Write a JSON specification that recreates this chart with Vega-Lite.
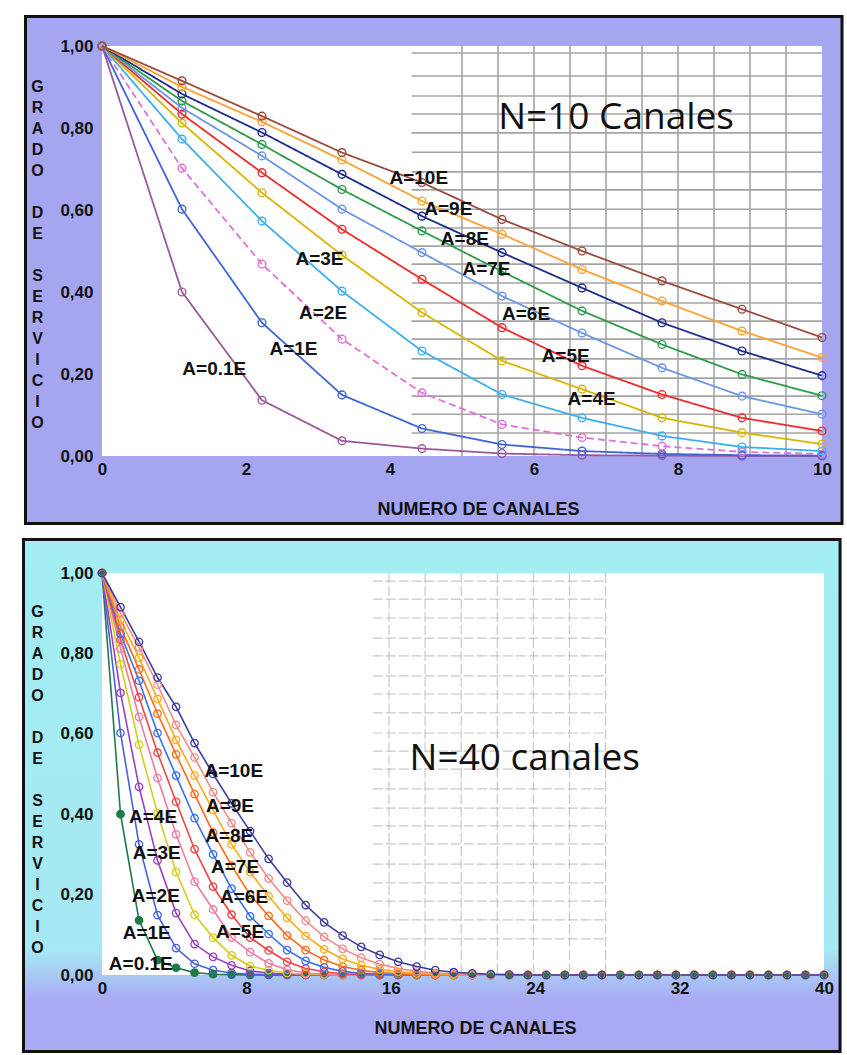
{
  "$schema": "https://vega.github.io/schema/vega-lite/v6.json",
  "background": "white",
  "padding": {"left": 22, "top": 14, "right": 0, "bottom": 0},
  "spacing": 13,
  "bounds": "full",
  "resolve": {"scale": {"x": "independent", "y": "independent", "color": "independent", "stroke": "independent", "fill": "independent", "strokeDash": "independent"}},
  "config": {
    "view": {"stroke": null},
    "axis": {"domain": false, "ticks": false, "grid": false, "labelFont": "Liberation Sans Narrow, Liberation Sans, sans-serif", "labelFontSize": 17, "labelFontWeight": "bold", "labelColor": "#111111", "titleFont": "Liberation Sans Narrow, Liberation Sans, sans-serif", "titleFontWeight": "bold", "titleColor": "#111111"},
    "axisX": {"labelPadding": 5, "titleFontSize": 18, "titlePadding": 23, "labelFlush": false},
    "axisY": {"labelPadding": 9, "titleAngle": 0, "titleFontSize": 16, "titleLineHeight": 21, "titleAlign": "center", "titleBaseline": "middle", "labelExpr": "replace(format(datum.value, '.2f'), '.', ',')"}
  },
  "datasets": {
    "top": [
      {"serie":"A=0.1E","x":0,"y":1},{"serie":"A=0.1E","x":1.111,"y":0.40},{"serie":"A=0.1E","x":2.222,"y":0.136},{"serie":"A=0.1E","x":3.333,"y":0.037},{"serie":"A=0.1E","x":4.444,"y":0.018},{"serie":"A=0.1E","x":5.556,"y":0.006},{"serie":"A=0.1E","x":6.667,"y":0.002},{"serie":"A=0.1E","x":7.778,"y":0.001},{"serie":"A=0.1E","x":8.889,"y":0},{"serie":"A=0.1E","x":10,"y":0},
      {"serie":"A=1E","x":0,"y":1},{"serie":"A=1E","x":1.111,"y":0.602},{"serie":"A=1E","x":2.222,"y":0.325},{"serie":"A=1E","x":3.333,"y":0.149},{"serie":"A=1E","x":4.444,"y":0.067},{"serie":"A=1E","x":5.556,"y":0.028},{"serie":"A=1E","x":6.667,"y":0.012},{"serie":"A=1E","x":7.778,"y":0.005},{"serie":"A=1E","x":8.889,"y":0.002},{"serie":"A=1E","x":10,"y":0.001},
      {"serie":"A=2E","x":0,"y":1},{"serie":"A=2E","x":1.111,"y":0.702},{"serie":"A=2E","x":2.222,"y":0.468},{"serie":"A=2E","x":3.333,"y":0.285},{"serie":"A=2E","x":4.444,"y":0.154},{"serie":"A=2E","x":5.556,"y":0.077},{"serie":"A=2E","x":6.667,"y":0.045},{"serie":"A=2E","x":7.778,"y":0.024},{"serie":"A=2E","x":8.889,"y":0.010},{"serie":"A=2E","x":10,"y":0.005},
      {"serie":"A=3E","x":0,"y":1},{"serie":"A=3E","x":1.111,"y":0.773},{"serie":"A=3E","x":2.222,"y":0.573},{"serie":"A=3E","x":3.333,"y":0.402},{"serie":"A=3E","x":4.444,"y":0.256},{"serie":"A=3E","x":5.556,"y":0.150},{"serie":"A=3E","x":6.667,"y":0.093},{"serie":"A=3E","x":7.778,"y":0.049},{"serie":"A=3E","x":8.889,"y":0.022},{"serie":"A=3E","x":10,"y":0.012},
      {"serie":"A=4E","x":0,"y":1},{"serie":"A=4E","x":1.111,"y":0.812},{"serie":"A=4E","x":2.222,"y":0.642},{"serie":"A=4E","x":3.333,"y":0.490},{"serie":"A=4E","x":4.444,"y":0.350},{"serie":"A=4E","x":5.556,"y":0.232},{"serie":"A=4E","x":6.667,"y":0.163},{"serie":"A=4E","x":7.778,"y":0.093},{"serie":"A=4E","x":8.889,"y":0.057},{"serie":"A=4E","x":10,"y":0.029},
      {"serie":"A=5E","x":0,"y":1},{"serie":"A=5E","x":1.111,"y":0.834},{"serie":"A=5E","x":2.222,"y":0.691},{"serie":"A=5E","x":3.333,"y":0.553},{"serie":"A=5E","x":4.444,"y":0.431},{"serie":"A=5E","x":5.556,"y":0.313},{"serie":"A=5E","x":6.667,"y":0.220},{"serie":"A=5E","x":7.778,"y":0.150},{"serie":"A=5E","x":8.889,"y":0.093},{"serie":"A=5E","x":10,"y":0.061},
      {"serie":"A=6E","x":0,"y":1},{"serie":"A=6E","x":1.111,"y":0.849},{"serie":"A=6E","x":2.222,"y":0.732},{"serie":"A=6E","x":3.333,"y":0.602},{"serie":"A=6E","x":4.444,"y":0.496},{"serie":"A=6E","x":5.556,"y":0.390},{"serie":"A=6E","x":6.667,"y":0.300},{"serie":"A=6E","x":7.778,"y":0.215},{"serie":"A=6E","x":8.889,"y":0.146},{"serie":"A=6E","x":10,"y":0.102},
      {"serie":"A=7E","x":0,"y":1},{"serie":"A=7E","x":1.111,"y":0.866},{"serie":"A=7E","x":2.222,"y":0.760},{"serie":"A=7E","x":3.333,"y":0.650},{"serie":"A=7E","x":4.444,"y":0.549},{"serie":"A=7E","x":5.556,"y":0.450},{"serie":"A=7E","x":6.667,"y":0.354},{"serie":"A=7E","x":7.778,"y":0.272},{"serie":"A=7E","x":8.889,"y":0.199},{"serie":"A=7E","x":10,"y":0.147},
      {"serie":"A=8E","x":0,"y":1},{"serie":"A=8E","x":1.111,"y":0.883},{"serie":"A=8E","x":2.222,"y":0.789},{"serie":"A=8E","x":3.333,"y":0.687},{"serie":"A=8E","x":4.444,"y":0.585},{"serie":"A=8E","x":5.556,"y":0.496},{"serie":"A=8E","x":6.667,"y":0.410},{"serie":"A=8E","x":7.778,"y":0.325},{"serie":"A=8E","x":8.889,"y":0.256},{"serie":"A=8E","x":10,"y":0.196},
      {"serie":"A=9E","x":0,"y":1},{"serie":"A=9E","x":1.111,"y":0.900},{"serie":"A=9E","x":2.222,"y":0.815},{"serie":"A=9E","x":3.333,"y":0.722},{"serie":"A=9E","x":4.444,"y":0.622},{"serie":"A=9E","x":5.556,"y":0.541},{"serie":"A=9E","x":6.667,"y":0.455},{"serie":"A=9E","x":7.778,"y":0.378},{"serie":"A=9E","x":8.889,"y":0.305},{"serie":"A=9E","x":10,"y":0.240},
      {"serie":"A=10E","x":0,"y":1},{"serie":"A=10E","x":1.111,"y":0.915},{"serie":"A=10E","x":2.222,"y":0.829},{"serie":"A=10E","x":3.333,"y":0.740},{"serie":"A=10E","x":4.444,"y":0.667},{"serie":"A=10E","x":5.556,"y":0.577},{"serie":"A=10E","x":6.667,"y":0.500},{"serie":"A=10E","x":7.778,"y":0.427},{"serie":"A=10E","x":8.889,"y":0.358},{"serie":"A=10E","x":10,"y":0.289}
    ],
    "bottom": [
      {"serie":"A=0.1E","x":0,"y":1},{"serie":"A=0.1E","x":1.026,"y":0.40},{"serie":"A=0.1E","x":2.051,"y":0.136},{"serie":"A=0.1E","x":3.077,"y":0.037},{"serie":"A=0.1E","x":4.103,"y":0.018},{"serie":"A=0.1E","x":5.128,"y":0.006},{"serie":"A=0.1E","x":6.154,"y":0.002},{"serie":"A=0.1E","x":7.179,"y":0.001},{"serie":"A=0.1E","x":8.205,"y":0},{"serie":"A=0.1E","x":9.231,"y":0},{"serie":"A=0.1E","x":10.256,"y":0},{"serie":"A=0.1E","x":11.282,"y":0},{"serie":"A=0.1E","x":12.308,"y":0},{"serie":"A=0.1E","x":13.333,"y":0},{"serie":"A=0.1E","x":14.359,"y":0},{"serie":"A=0.1E","x":15.385,"y":0},{"serie":"A=0.1E","x":16.41,"y":0},{"serie":"A=0.1E","x":17.436,"y":0},{"serie":"A=0.1E","x":18.462,"y":0},{"serie":"A=0.1E","x":19.487,"y":0},{"serie":"A=0.1E","x":20.513,"y":0},{"serie":"A=0.1E","x":21.538,"y":0},{"serie":"A=0.1E","x":22.564,"y":0},{"serie":"A=0.1E","x":23.59,"y":0},{"serie":"A=0.1E","x":24.615,"y":0},{"serie":"A=0.1E","x":25.641,"y":0},{"serie":"A=0.1E","x":26.667,"y":0},{"serie":"A=0.1E","x":27.692,"y":0},{"serie":"A=0.1E","x":28.718,"y":0},{"serie":"A=0.1E","x":29.744,"y":0},{"serie":"A=0.1E","x":30.769,"y":0},{"serie":"A=0.1E","x":31.795,"y":0},{"serie":"A=0.1E","x":32.821,"y":0},{"serie":"A=0.1E","x":33.846,"y":0},{"serie":"A=0.1E","x":34.872,"y":0},{"serie":"A=0.1E","x":35.897,"y":0},{"serie":"A=0.1E","x":36.923,"y":0},{"serie":"A=0.1E","x":37.949,"y":0},{"serie":"A=0.1E","x":38.974,"y":0},{"serie":"A=0.1E","x":40,"y":0},
      {"serie":"A=1E","x":0,"y":1},{"serie":"A=1E","x":1.026,"y":0.602},{"serie":"A=1E","x":2.051,"y":0.325},{"serie":"A=1E","x":3.077,"y":0.149},{"serie":"A=1E","x":4.103,"y":0.067},{"serie":"A=1E","x":5.128,"y":0.028},{"serie":"A=1E","x":6.154,"y":0.012},{"serie":"A=1E","x":7.179,"y":0.005},{"serie":"A=1E","x":8.205,"y":0.002},{"serie":"A=1E","x":9.231,"y":0.001},{"serie":"A=1E","x":10.256,"y":0},{"serie":"A=1E","x":11.282,"y":0},{"serie":"A=1E","x":12.308,"y":0},{"serie":"A=1E","x":13.333,"y":0},{"serie":"A=1E","x":14.359,"y":0},{"serie":"A=1E","x":15.385,"y":0},{"serie":"A=1E","x":16.41,"y":0},{"serie":"A=1E","x":17.436,"y":0},{"serie":"A=1E","x":18.462,"y":0},{"serie":"A=1E","x":19.487,"y":0},{"serie":"A=1E","x":20.513,"y":0},{"serie":"A=1E","x":21.538,"y":0},{"serie":"A=1E","x":22.564,"y":0},{"serie":"A=1E","x":23.59,"y":0},{"serie":"A=1E","x":24.615,"y":0},{"serie":"A=1E","x":25.641,"y":0},{"serie":"A=1E","x":26.667,"y":0},{"serie":"A=1E","x":27.692,"y":0},{"serie":"A=1E","x":28.718,"y":0},{"serie":"A=1E","x":29.744,"y":0},{"serie":"A=1E","x":30.769,"y":0},{"serie":"A=1E","x":31.795,"y":0},{"serie":"A=1E","x":32.821,"y":0},{"serie":"A=1E","x":33.846,"y":0},{"serie":"A=1E","x":34.872,"y":0},{"serie":"A=1E","x":35.897,"y":0},{"serie":"A=1E","x":36.923,"y":0},{"serie":"A=1E","x":37.949,"y":0},{"serie":"A=1E","x":38.974,"y":0},{"serie":"A=1E","x":40,"y":0},
      {"serie":"A=2E","x":0,"y":1},{"serie":"A=2E","x":1.026,"y":0.702},{"serie":"A=2E","x":2.051,"y":0.468},{"serie":"A=2E","x":3.077,"y":0.285},{"serie":"A=2E","x":4.103,"y":0.154},{"serie":"A=2E","x":5.128,"y":0.077},{"serie":"A=2E","x":6.154,"y":0.045},{"serie":"A=2E","x":7.179,"y":0.024},{"serie":"A=2E","x":8.205,"y":0.010},{"serie":"A=2E","x":9.231,"y":0.005},{"serie":"A=2E","x":10.256,"y":0.002},{"serie":"A=2E","x":11.282,"y":0.001},{"serie":"A=2E","x":12.308,"y":0},{"serie":"A=2E","x":13.333,"y":0},{"serie":"A=2E","x":14.359,"y":0},{"serie":"A=2E","x":15.385,"y":0},{"serie":"A=2E","x":16.41,"y":0},{"serie":"A=2E","x":17.436,"y":0},{"serie":"A=2E","x":18.462,"y":0},{"serie":"A=2E","x":19.487,"y":0},{"serie":"A=2E","x":20.513,"y":0},{"serie":"A=2E","x":21.538,"y":0},{"serie":"A=2E","x":22.564,"y":0},{"serie":"A=2E","x":23.59,"y":0},{"serie":"A=2E","x":24.615,"y":0},{"serie":"A=2E","x":25.641,"y":0},{"serie":"A=2E","x":26.667,"y":0},{"serie":"A=2E","x":27.692,"y":0},{"serie":"A=2E","x":28.718,"y":0},{"serie":"A=2E","x":29.744,"y":0},{"serie":"A=2E","x":30.769,"y":0},{"serie":"A=2E","x":31.795,"y":0},{"serie":"A=2E","x":32.821,"y":0},{"serie":"A=2E","x":33.846,"y":0},{"serie":"A=2E","x":34.872,"y":0},{"serie":"A=2E","x":35.897,"y":0},{"serie":"A=2E","x":36.923,"y":0},{"serie":"A=2E","x":37.949,"y":0},{"serie":"A=2E","x":38.974,"y":0},{"serie":"A=2E","x":40,"y":0},
      {"serie":"A=3E","x":0,"y":1},{"serie":"A=3E","x":1.026,"y":0.773},{"serie":"A=3E","x":2.051,"y":0.573},{"serie":"A=3E","x":3.077,"y":0.402},{"serie":"A=3E","x":4.103,"y":0.256},{"serie":"A=3E","x":5.128,"y":0.150},{"serie":"A=3E","x":6.154,"y":0.093},{"serie":"A=3E","x":7.179,"y":0.049},{"serie":"A=3E","x":8.205,"y":0.022},{"serie":"A=3E","x":9.231,"y":0.012},{"serie":"A=3E","x":10.256,"y":0.005},{"serie":"A=3E","x":11.282,"y":0.002},{"serie":"A=3E","x":12.308,"y":0.001},{"serie":"A=3E","x":13.333,"y":0},{"serie":"A=3E","x":14.359,"y":0},{"serie":"A=3E","x":15.385,"y":0},{"serie":"A=3E","x":16.41,"y":0},{"serie":"A=3E","x":17.436,"y":0},{"serie":"A=3E","x":18.462,"y":0},{"serie":"A=3E","x":19.487,"y":0},{"serie":"A=3E","x":20.513,"y":0},{"serie":"A=3E","x":21.538,"y":0},{"serie":"A=3E","x":22.564,"y":0},{"serie":"A=3E","x":23.59,"y":0},{"serie":"A=3E","x":24.615,"y":0},{"serie":"A=3E","x":25.641,"y":0},{"serie":"A=3E","x":26.667,"y":0},{"serie":"A=3E","x":27.692,"y":0},{"serie":"A=3E","x":28.718,"y":0},{"serie":"A=3E","x":29.744,"y":0},{"serie":"A=3E","x":30.769,"y":0},{"serie":"A=3E","x":31.795,"y":0},{"serie":"A=3E","x":32.821,"y":0},{"serie":"A=3E","x":33.846,"y":0},{"serie":"A=3E","x":34.872,"y":0},{"serie":"A=3E","x":35.897,"y":0},{"serie":"A=3E","x":36.923,"y":0},{"serie":"A=3E","x":37.949,"y":0},{"serie":"A=3E","x":38.974,"y":0},{"serie":"A=3E","x":40,"y":0},
      {"serie":"A=4E","x":0,"y":1},{"serie":"A=4E","x":1.026,"y":0.812},{"serie":"A=4E","x":2.051,"y":0.642},{"serie":"A=4E","x":3.077,"y":0.490},{"serie":"A=4E","x":4.103,"y":0.350},{"serie":"A=4E","x":5.128,"y":0.232},{"serie":"A=4E","x":6.154,"y":0.163},{"serie":"A=4E","x":7.179,"y":0.093},{"serie":"A=4E","x":8.205,"y":0.057},{"serie":"A=4E","x":9.231,"y":0.029},{"serie":"A=4E","x":10.256,"y":0.013},{"serie":"A=4E","x":11.282,"y":0.005},{"serie":"A=4E","x":12.308,"y":0.002},{"serie":"A=4E","x":13.333,"y":0.001},{"serie":"A=4E","x":14.359,"y":0},{"serie":"A=4E","x":15.385,"y":0},{"serie":"A=4E","x":16.41,"y":0},{"serie":"A=4E","x":17.436,"y":0},{"serie":"A=4E","x":18.462,"y":0},{"serie":"A=4E","x":19.487,"y":0},{"serie":"A=4E","x":20.513,"y":0},{"serie":"A=4E","x":21.538,"y":0},{"serie":"A=4E","x":22.564,"y":0},{"serie":"A=4E","x":23.59,"y":0},{"serie":"A=4E","x":24.615,"y":0},{"serie":"A=4E","x":25.641,"y":0},{"serie":"A=4E","x":26.667,"y":0},{"serie":"A=4E","x":27.692,"y":0},{"serie":"A=4E","x":28.718,"y":0},{"serie":"A=4E","x":29.744,"y":0},{"serie":"A=4E","x":30.769,"y":0},{"serie":"A=4E","x":31.795,"y":0},{"serie":"A=4E","x":32.821,"y":0},{"serie":"A=4E","x":33.846,"y":0},{"serie":"A=4E","x":34.872,"y":0},{"serie":"A=4E","x":35.897,"y":0},{"serie":"A=4E","x":36.923,"y":0},{"serie":"A=4E","x":37.949,"y":0},{"serie":"A=4E","x":38.974,"y":0},{"serie":"A=4E","x":40,"y":0},
      {"serie":"A=5E","x":0,"y":1},{"serie":"A=5E","x":1.026,"y":0.834},{"serie":"A=5E","x":2.051,"y":0.691},{"serie":"A=5E","x":3.077,"y":0.553},{"serie":"A=5E","x":4.103,"y":0.431},{"serie":"A=5E","x":5.128,"y":0.313},{"serie":"A=5E","x":6.154,"y":0.220},{"serie":"A=5E","x":7.179,"y":0.150},{"serie":"A=5E","x":8.205,"y":0.093},{"serie":"A=5E","x":9.231,"y":0.061},{"serie":"A=5E","x":10.256,"y":0.033},{"serie":"A=5E","x":11.282,"y":0.016},{"serie":"A=5E","x":12.308,"y":0.008},{"serie":"A=5E","x":13.333,"y":0.003},{"serie":"A=5E","x":14.359,"y":0.001},{"serie":"A=5E","x":15.385,"y":0},{"serie":"A=5E","x":16.41,"y":0},{"serie":"A=5E","x":17.436,"y":0},{"serie":"A=5E","x":18.462,"y":0},{"serie":"A=5E","x":19.487,"y":0},{"serie":"A=5E","x":20.513,"y":0},{"serie":"A=5E","x":21.538,"y":0},{"serie":"A=5E","x":22.564,"y":0},{"serie":"A=5E","x":23.59,"y":0},{"serie":"A=5E","x":24.615,"y":0},{"serie":"A=5E","x":25.641,"y":0},{"serie":"A=5E","x":26.667,"y":0},{"serie":"A=5E","x":27.692,"y":0},{"serie":"A=5E","x":28.718,"y":0},{"serie":"A=5E","x":29.744,"y":0},{"serie":"A=5E","x":30.769,"y":0},{"serie":"A=5E","x":31.795,"y":0},{"serie":"A=5E","x":32.821,"y":0},{"serie":"A=5E","x":33.846,"y":0},{"serie":"A=5E","x":34.872,"y":0},{"serie":"A=5E","x":35.897,"y":0},{"serie":"A=5E","x":36.923,"y":0},{"serie":"A=5E","x":37.949,"y":0},{"serie":"A=5E","x":38.974,"y":0},{"serie":"A=5E","x":40,"y":0},
      {"serie":"A=6E","x":0,"y":1},{"serie":"A=6E","x":1.026,"y":0.849},{"serie":"A=6E","x":2.051,"y":0.732},{"serie":"A=6E","x":3.077,"y":0.602},{"serie":"A=6E","x":4.103,"y":0.496},{"serie":"A=6E","x":5.128,"y":0.390},{"serie":"A=6E","x":6.154,"y":0.300},{"serie":"A=6E","x":7.179,"y":0.215},{"serie":"A=6E","x":8.205,"y":0.146},{"serie":"A=6E","x":9.231,"y":0.102},{"serie":"A=6E","x":10.256,"y":0.062},{"serie":"A=6E","x":11.282,"y":0.035},{"serie":"A=6E","x":12.308,"y":0.019},{"serie":"A=6E","x":13.333,"y":0.009},{"serie":"A=6E","x":14.359,"y":0.004},{"serie":"A=6E","x":15.385,"y":0.002},{"serie":"A=6E","x":16.41,"y":0.001},{"serie":"A=6E","x":17.436,"y":0},{"serie":"A=6E","x":18.462,"y":0},{"serie":"A=6E","x":19.487,"y":0},{"serie":"A=6E","x":20.513,"y":0},{"serie":"A=6E","x":21.538,"y":0},{"serie":"A=6E","x":22.564,"y":0},{"serie":"A=6E","x":23.59,"y":0},{"serie":"A=6E","x":24.615,"y":0},{"serie":"A=6E","x":25.641,"y":0},{"serie":"A=6E","x":26.667,"y":0},{"serie":"A=6E","x":27.692,"y":0},{"serie":"A=6E","x":28.718,"y":0},{"serie":"A=6E","x":29.744,"y":0},{"serie":"A=6E","x":30.769,"y":0},{"serie":"A=6E","x":31.795,"y":0},{"serie":"A=6E","x":32.821,"y":0},{"serie":"A=6E","x":33.846,"y":0},{"serie":"A=6E","x":34.872,"y":0},{"serie":"A=6E","x":35.897,"y":0},{"serie":"A=6E","x":36.923,"y":0},{"serie":"A=6E","x":37.949,"y":0},{"serie":"A=6E","x":38.974,"y":0},{"serie":"A=6E","x":40,"y":0},
      {"serie":"A=7E","x":0,"y":1},{"serie":"A=7E","x":1.026,"y":0.866},{"serie":"A=7E","x":2.051,"y":0.760},{"serie":"A=7E","x":3.077,"y":0.650},{"serie":"A=7E","x":4.103,"y":0.549},{"serie":"A=7E","x":5.128,"y":0.450},{"serie":"A=7E","x":6.154,"y":0.354},{"serie":"A=7E","x":7.179,"y":0.272},{"serie":"A=7E","x":8.205,"y":0.199},{"serie":"A=7E","x":9.231,"y":0.147},{"serie":"A=7E","x":10.256,"y":0.098},{"serie":"A=7E","x":11.282,"y":0.062},{"serie":"A=7E","x":12.308,"y":0.037},{"serie":"A=7E","x":13.333,"y":0.021},{"serie":"A=7E","x":14.359,"y":0.012},{"serie":"A=7E","x":15.385,"y":0.006},{"serie":"A=7E","x":16.41,"y":0.003},{"serie":"A=7E","x":17.436,"y":0.001},{"serie":"A=7E","x":18.462,"y":0},{"serie":"A=7E","x":19.487,"y":0},{"serie":"A=7E","x":20.513,"y":0},{"serie":"A=7E","x":21.538,"y":0},{"serie":"A=7E","x":22.564,"y":0},{"serie":"A=7E","x":23.59,"y":0},{"serie":"A=7E","x":24.615,"y":0},{"serie":"A=7E","x":25.641,"y":0},{"serie":"A=7E","x":26.667,"y":0},{"serie":"A=7E","x":27.692,"y":0},{"serie":"A=7E","x":28.718,"y":0},{"serie":"A=7E","x":29.744,"y":0},{"serie":"A=7E","x":30.769,"y":0},{"serie":"A=7E","x":31.795,"y":0},{"serie":"A=7E","x":32.821,"y":0},{"serie":"A=7E","x":33.846,"y":0},{"serie":"A=7E","x":34.872,"y":0},{"serie":"A=7E","x":35.897,"y":0},{"serie":"A=7E","x":36.923,"y":0},{"serie":"A=7E","x":37.949,"y":0},{"serie":"A=7E","x":38.974,"y":0},{"serie":"A=7E","x":40,"y":0},
      {"serie":"A=8E","x":0,"y":1},{"serie":"A=8E","x":1.026,"y":0.883},{"serie":"A=8E","x":2.051,"y":0.789},{"serie":"A=8E","x":3.077,"y":0.687},{"serie":"A=8E","x":4.103,"y":0.585},{"serie":"A=8E","x":5.128,"y":0.496},{"serie":"A=8E","x":6.154,"y":0.410},{"serie":"A=8E","x":7.179,"y":0.325},{"serie":"A=8E","x":8.205,"y":0.256},{"serie":"A=8E","x":9.231,"y":0.196},{"serie":"A=8E","x":10.256,"y":0.142},{"serie":"A=8E","x":11.282,"y":0.097},{"serie":"A=8E","x":12.308,"y":0.064},{"serie":"A=8E","x":13.333,"y":0.040},{"serie":"A=8E","x":14.359,"y":0.024},{"serie":"A=8E","x":15.385,"y":0.014},{"serie":"A=8E","x":16.41,"y":0.008},{"serie":"A=8E","x":17.436,"y":0.004},{"serie":"A=8E","x":18.462,"y":0.002},{"serie":"A=8E","x":19.487,"y":0.001},{"serie":"A=8E","x":20.513,"y":0},{"serie":"A=8E","x":21.538,"y":0},{"serie":"A=8E","x":22.564,"y":0},{"serie":"A=8E","x":23.59,"y":0},{"serie":"A=8E","x":24.615,"y":0},{"serie":"A=8E","x":25.641,"y":0},{"serie":"A=8E","x":26.667,"y":0},{"serie":"A=8E","x":27.692,"y":0},{"serie":"A=8E","x":28.718,"y":0},{"serie":"A=8E","x":29.744,"y":0},{"serie":"A=8E","x":30.769,"y":0},{"serie":"A=8E","x":31.795,"y":0},{"serie":"A=8E","x":32.821,"y":0},{"serie":"A=8E","x":33.846,"y":0},{"serie":"A=8E","x":34.872,"y":0},{"serie":"A=8E","x":35.897,"y":0},{"serie":"A=8E","x":36.923,"y":0},{"serie":"A=8E","x":37.949,"y":0},{"serie":"A=8E","x":38.974,"y":0},{"serie":"A=8E","x":40,"y":0},
      {"serie":"A=9E","x":0,"y":1},{"serie":"A=9E","x":1.026,"y":0.900},{"serie":"A=9E","x":2.051,"y":0.815},{"serie":"A=9E","x":3.077,"y":0.722},{"serie":"A=9E","x":4.103,"y":0.622},{"serie":"A=9E","x":5.128,"y":0.541},{"serie":"A=9E","x":6.154,"y":0.455},{"serie":"A=9E","x":7.179,"y":0.378},{"serie":"A=9E","x":8.205,"y":0.305},{"serie":"A=9E","x":9.231,"y":0.240},{"serie":"A=9E","x":10.256,"y":0.185},{"serie":"A=9E","x":11.282,"y":0.135},{"serie":"A=9E","x":12.308,"y":0.095},{"serie":"A=9E","x":13.333,"y":0.065},{"serie":"A=9E","x":14.359,"y":0.043},{"serie":"A=9E","x":15.385,"y":0.027},{"serie":"A=9E","x":16.41,"y":0.016},{"serie":"A=9E","x":17.436,"y":0.009},{"serie":"A=9E","x":18.462,"y":0.005},{"serie":"A=9E","x":19.487,"y":0.003},{"serie":"A=9E","x":20.513,"y":0.001},{"serie":"A=9E","x":21.538,"y":0},{"serie":"A=9E","x":22.564,"y":0},{"serie":"A=9E","x":23.59,"y":0},{"serie":"A=9E","x":24.615,"y":0},{"serie":"A=9E","x":25.641,"y":0},{"serie":"A=9E","x":26.667,"y":0},{"serie":"A=9E","x":27.692,"y":0},{"serie":"A=9E","x":28.718,"y":0},{"serie":"A=9E","x":29.744,"y":0},{"serie":"A=9E","x":30.769,"y":0},{"serie":"A=9E","x":31.795,"y":0},{"serie":"A=9E","x":32.821,"y":0},{"serie":"A=9E","x":33.846,"y":0},{"serie":"A=9E","x":34.872,"y":0},{"serie":"A=9E","x":35.897,"y":0},{"serie":"A=9E","x":36.923,"y":0},{"serie":"A=9E","x":37.949,"y":0},{"serie":"A=9E","x":38.974,"y":0},{"serie":"A=9E","x":40,"y":0},
      {"serie":"A=10E","x":0,"y":1},{"serie":"A=10E","x":1.026,"y":0.915},{"serie":"A=10E","x":2.051,"y":0.829},{"serie":"A=10E","x":3.077,"y":0.740},{"serie":"A=10E","x":4.103,"y":0.667},{"serie":"A=10E","x":5.128,"y":0.577},{"serie":"A=10E","x":6.154,"y":0.500},{"serie":"A=10E","x":7.179,"y":0.427},{"serie":"A=10E","x":8.205,"y":0.358},{"serie":"A=10E","x":9.231,"y":0.289},{"serie":"A=10E","x":10.256,"y":0.230},{"serie":"A=10E","x":11.282,"y":0.174},{"serie":"A=10E","x":12.308,"y":0.131},{"serie":"A=10E","x":13.333,"y":0.098},{"serie":"A=10E","x":14.359,"y":0.070},{"serie":"A=10E","x":15.385,"y":0.050},{"serie":"A=10E","x":16.41,"y":0.033},{"serie":"A=10E","x":17.436,"y":0.021},{"serie":"A=10E","x":18.462,"y":0.012},{"serie":"A=10E","x":19.487,"y":0.007},{"serie":"A=10E","x":20.513,"y":0.004},{"serie":"A=10E","x":21.538,"y":0.002},{"serie":"A=10E","x":22.564,"y":0.001},{"serie":"A=10E","x":23.59,"y":0},{"serie":"A=10E","x":24.615,"y":0},{"serie":"A=10E","x":25.641,"y":0},{"serie":"A=10E","x":26.667,"y":0},{"serie":"A=10E","x":27.692,"y":0},{"serie":"A=10E","x":28.718,"y":0},{"serie":"A=10E","x":29.744,"y":0},{"serie":"A=10E","x":30.769,"y":0},{"serie":"A=10E","x":31.795,"y":0},{"serie":"A=10E","x":32.821,"y":0},{"serie":"A=10E","x":33.846,"y":0},{"serie":"A=10E","x":34.872,"y":0},{"serie":"A=10E","x":35.897,"y":0},{"serie":"A=10E","x":36.923,"y":0},{"serie":"A=10E","x":37.949,"y":0},{"serie":"A=10E","x":38.974,"y":0},{"serie":"A=10E","x":40,"y":0}
    ]
  },
  "vconcat": [
    {
      "width": 720,
      "height": 410,
      "data": {"name": "top"},
      "layer": [
        {
          "data": {"values": [{}]},
          "mark": {"type": "rect", "fill": "#a6a6f0", "stroke": "#111111", "strokeWidth": 3},
          "encoding": {
            "x": {"datum": -1.0625, "type": "quantitative", "scale": {"domain": [0, 10], "nice": false, "zero": false}},
            "x2": {"datum": 10.278},
            "y": {"datum": 1.072, "type": "quantitative", "scale": {"domain": [0, 1], "nice": false}},
            "y2": {"datum": -0.1646}
          }
        },
        {
          "data": {"values": [{}]},
          "mark": {"type": "rect", "fill": "white"},
          "encoding": {
            "x": {"datum": 0, "type": "quantitative"},
            "x2": {"datum": 10},
            "y": {"datum": 1, "type": "quantitative"},
            "y2": {"datum": 0}
          }
        },
        {
          "data": {"values": [{"gx":5},{"gx":5.5},{"gx":6},{"gx":6.5},{"gx":7},{"gx":7.5},{"gx":8},{"gx":8.5},{"gx":9},{"gx":9.5}]},
          "mark": {"type": "rule", "color": "#a4a4a4", "strokeWidth": 1.6},
          "encoding": {
            "x": {"field": "gx", "type": "quantitative", "title": "NUMERO DE CANALES", "axis": {"values": [0, 2, 4, 6, 8, 10], "format": "d", "titleX": 376, "zindex": 2}}
          }
        },
        {
          "data": {"values": [{"gy":0.983},{"gy":0.927},{"gy":0.878},{"gy":0.834},{"gy":0.788},{"gy":0.741},{"gy":0.693},{"gy":0.649},{"gy":0.602},{"gy":0.556},{"gy":0.512},{"gy":0.468},{"gy":0.422},{"gy":0.373},{"gy":0.329},{"gy":0.285},{"gy":0.237},{"gy":0.190},{"gy":0.146},{"gy":0.102},{"gy":0.056}]},
          "mark": {"type": "rule", "color": "#a4a4a4", "strokeWidth": 1.6},
          "encoding": {
            "x": {"datum": 4.3, "type": "quantitative"},
            "x2": {"datum": 10},
            "y": {"field": "gy", "type": "quantitative", "title": ["G","R","A","D","O","\u200b","D","E","\u200b","S","E","R","V","I","C","I","O"], "axis": {"values": [0, 0.2, 0.4, 0.6, 0.8, 1], "titleX": -65, "titleY": 40, "zindex": 2}}
          }
        },
        {
          "mark": {"type": "line", "strokeWidth": 1.8},
          "encoding": {
            "x": {"field": "x", "type": "quantitative", "title": "NUMERO DE CANALES"},
            "y": {"field": "y", "type": "quantitative", "title": ["G","R","A","D","O","\u200b","D","E","\u200b","S","E","R","V","I","C","I","O"]},
            "color": {"field": "serie", "type": "nominal", "legend": null, "scale": {"domain": ["A=0.1E","A=1E","A=2E","A=3E","A=4E","A=5E","A=6E","A=7E","A=8E","A=9E","A=10E"], "range": ["#9a5a9a","#3f64d8","#e070d8","#3ab0f0","#d9b400","#f02a2a","#6a96e6","#2f9a48","#1c2a8c","#ffa030","#9a4a3c"]}},
            "strokeDash": {"field": "serie", "type": "nominal", "legend": null, "scale": {"domain": ["A=0.1E","A=1E","A=2E","A=3E","A=4E","A=5E","A=6E","A=7E","A=8E","A=9E","A=10E"], "range": [[1,0],[1,0],[7,4],[1,0],[1,0],[1,0],[1,0],[1,0],[1,0],[1,0],[1,0]]}}
          }
        },
        {
          "mark": {"type": "point", "shape": "circle", "filled": false, "size": 60, "strokeWidth": 1.4, "opacity": 1},
          "encoding": {
            "x": {"field": "x", "type": "quantitative", "title": "NUMERO DE CANALES"},
            "y": {"field": "y", "type": "quantitative", "title": ["G","R","A","D","O","\u200b","D","E","\u200b","S","E","R","V","I","C","I","O"]},
            "color": {"field": "serie", "type": "nominal", "legend": null}
          }
        },
        {
          "data": {"values": [
            {"label":"A=10E","lx":4.40,"ly":0.679},
            {"label":"A=9E","lx":4.81,"ly":0.602},
            {"label":"A=8E","lx":5.04,"ly":0.529},
            {"label":"A=7E","lx":5.34,"ly":0.455},
            {"label":"A=6E","lx":5.89,"ly":0.347},
            {"label":"A=5E","lx":6.44,"ly":0.244},
            {"label":"A=4E","lx":6.80,"ly":0.138},
            {"label":"A=3E","lx":3.02,"ly":0.48},
            {"label":"A=2E","lx":3.07,"ly":0.35},
            {"label":"A=1E","lx":2.66,"ly":0.26},
            {"label":"A=0.1E","lx":1.56,"ly":0.211}
          ]},
          "mark": {"type": "text", "font": "Liberation Sans", "fontWeight": "bold", "fontSize": 19, "color": "#111111"},
          "encoding": {
            "x": {"field": "lx", "type": "quantitative", "title": "NUMERO DE CANALES"},
            "y": {"field": "ly", "type": "quantitative", "title": ["G","R","A","D","O","\u200b","D","E","\u200b","S","E","R","V","I","C","I","O"]},
            "text": {"field": "label"}
          }
        },
        {
          "data": {"values": [{"label": "N=10 Canales", "lx": 7.14, "ly": 0.825}]},
          "mark": {"type": "text", "font": "Open Sans", "fontSize": 37, "color": "#111111"},
          "encoding": {
            "x": {"field": "lx", "type": "quantitative", "title": "NUMERO DE CANALES"},
            "y": {"field": "ly", "type": "quantitative", "title": ["G","R","A","D","O","\u200b","D","E","\u200b","S","E","R","V","I","C","I","O"]},
            "text": {"field": "label"}
          }
        }
      ]
    },
    {
      "width": 722,
      "height": 402,
      "data": {"name": "bottom"},
      "layer": [
        {
          "data": {"values": [{}]},
          "mark": {"type": "rect", "fill": {"gradient": "linear", "x1": 0, "y1": 0, "x2": 0, "y2": 1, "stops": [{"offset": 0, "color": "#a2eef2"}, {"offset": 0.8, "color": "#a6e8f3"}, {"offset": 0.9, "color": "#aaaaf4"}, {"offset": 1, "color": "#aaaaf4"}]}, "stroke": "#111111", "strokeWidth": 3},
          "encoding": {
            "x": {"datum": -4.349, "type": "quantitative", "scale": {"domain": [0, 40], "nice": false, "zero": false}},
            "x2": {"datum": 40.89},
            "y": {"datum": 1.0833, "type": "quantitative", "scale": {"domain": [0, 1], "nice": false}},
            "y2": {"datum": -0.1903}
          }
        },
        {
          "data": {"values": [{}]},
          "mark": {"type": "rect", "fill": "white"},
          "encoding": {
            "x": {"datum": 0, "type": "quantitative"},
            "x2": {"datum": 40},
            "y": {"datum": 1, "type": "quantitative"},
            "y2": {"datum": 0}
          }
        },
        {
          "data": {"values": [{"gx":15.9},{"gx":17.9},{"gx":19.9},{"gx":21.9},{"gx":23.9},{"gx":25.9},{"gx":27.9}]},
          "mark": {"type": "rule", "color": "#b0b0b0", "strokeWidth": 1.2, "strokeDash": [10, 3], "opacity": 0.7},
          "encoding": {
            "x": {"field": "gx", "type": "quantitative", "title": "NUMERO DE CANALES", "axis": {"values": [0, 8, 16, 24, 32, 40], "format": "d", "titleX": 373, "zindex": 2}}
          }
        },
        {
          "data": {"values": [{"gy":0.980},{"gy":0.935},{"gy":0.888},{"gy":0.838},{"gy":0.794},{"gy":0.744},{"gy":0.699},{"gy":0.652},{"gy":0.602},{"gy":0.557},{"gy":0.512},{"gy":0.463},{"gy":0.415},{"gy":0.371},{"gy":0.326},{"gy":0.276},{"gy":0.229},{"gy":0.184},{"gy":0.137},{"gy":0.09}]},
          "mark": {"type": "rule", "color": "#b0b0b0", "strokeWidth": 1.2, "strokeDash": [10, 3], "opacity": 0.7},
          "encoding": {
            "x": {"datum": 15, "type": "quantitative"},
            "x2": {"datum": 28},
            "y": {"field": "gy", "type": "quantitative", "title": ["G","R","A","D","O","\u200b","D","E","\u200b","S","E","R","V","I","C","I","O"], "axis": {"values": [0, 0.2, 0.4, 0.6, 0.8, 1], "titleX": -65, "titleY": 38, "zindex": 2}}
          }
        },
        {
          "mark": {"type": "line", "strokeWidth": 1.6},
          "encoding": {
            "x": {"field": "x", "type": "quantitative", "title": "NUMERO DE CANALES"},
            "y": {"field": "y", "type": "quantitative", "title": ["G","R","A","D","O","\u200b","D","E","\u200b","S","E","R","V","I","C","I","O"]},
            "color": {"field": "serie", "type": "nominal", "legend": null, "scale": {"domain": ["A=0.1E","A=1E","A=2E","A=3E","A=4E","A=5E","A=6E","A=7E","A=8E","A=9E","A=10E"], "range": ["#1f7a48","#4a5fe0","#9b3fc0","#d4cc1a","#f07aa0","#ee4444","#3a6ff0","#ff6a1a","#ffaa1a","#f08a8a","#3c3ca0"]}}
          }
        },
        {
          "mark": {"type": "point", "shape": "circle", "filled": true, "size": 55, "strokeWidth": 1.3, "opacity": 1},
          "encoding": {
            "x": {"field": "x", "type": "quantitative", "title": "NUMERO DE CANALES"},
            "y": {"field": "y", "type": "quantitative", "title": ["G","R","A","D","O","\u200b","D","E","\u200b","S","E","R","V","I","C","I","O"]},
            "stroke": {"field": "serie", "type": "nominal", "legend": null, "scale": {"domain": ["A=0.1E","A=1E","A=2E","A=3E","A=4E","A=5E","A=6E","A=7E","A=8E","A=9E","A=10E"], "range": ["#1f7a48","#4a5fe0","#9b3fc0","#d4cc1a","#f07aa0","#ee4444","#3a6ff0","#ff6a1a","#ffaa1a","#f08a8a","#3c3ca0"]}},
            "fill": {"condition": {"test": "datum.serie === 'A=0.1E'", "value": "#1f7a48"}, "value": "transparent"}
          }
        },
        {
          "data": {"values": [
            {"label":"A=10E","lx":7.3,"ly":0.507},
            {"label":"A=9E","lx":7.09,"ly":0.42},
            {"label":"A=8E","lx":7.05,"ly":0.345},
            {"label":"A=7E","lx":7.37,"ly":0.268},
            {"label":"A=6E","lx":7.87,"ly":0.193},
            {"label":"A=5E","lx":7.65,"ly":0.106},
            {"label":"A=4E","lx":2.83,"ly":0.393},
            {"label":"A=3E","lx":3.03,"ly":0.304},
            {"label":"A=2E","lx":2.98,"ly":0.197},
            {"label":"A=1E","lx":2.48,"ly":0.105},
            {"label":"A=0.1E","lx":2.15,"ly":0.027}
          ]},
          "mark": {"type": "text", "font": "Liberation Sans", "fontWeight": "bold", "fontSize": 19, "color": "#111111"},
          "encoding": {
            "x": {"field": "lx", "type": "quantitative", "title": "NUMERO DE CANALES"},
            "y": {"field": "ly", "type": "quantitative", "title": ["G","R","A","D","O","\u200b","D","E","\u200b","S","E","R","V","I","C","I","O"]},
            "text": {"field": "label"}
          }
        },
        {
          "data": {"values": [{"label": "N=40 canales", "lx": 23.42, "ly": 0.537}]},
          "mark": {"type": "text", "font": "Open Sans", "fontSize": 37, "color": "#111111"},
          "encoding": {
            "x": {"field": "lx", "type": "quantitative", "title": "NUMERO DE CANALES"},
            "y": {"field": "ly", "type": "quantitative", "title": ["G","R","A","D","O","\u200b","D","E","\u200b","S","E","R","V","I","C","I","O"]},
            "text": {"field": "label"}
          }
        }
      ]
    }
  ]
}
